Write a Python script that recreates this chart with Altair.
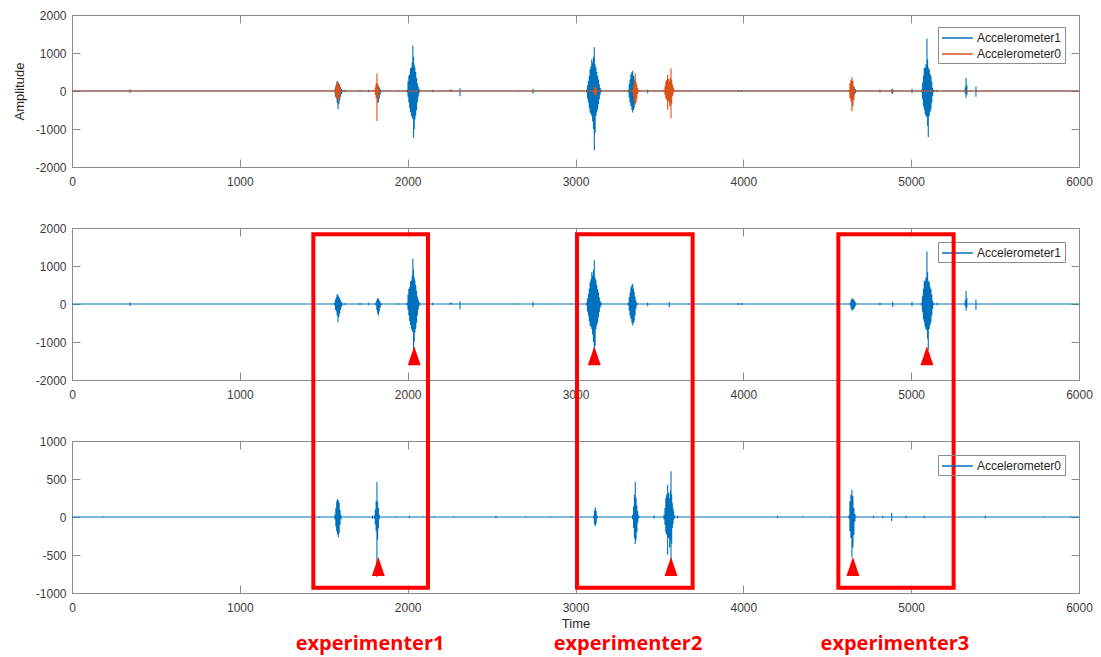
import altair as alt
import pandas as pd

# ---------------- axes / ticks ----------------
X_DOMAIN = [0, 6000]
X_TICKS = [0, 1000, 2000, 3000, 4000, 5000, 6000]
Y_DOMAIN_WIDE = [-2000, 2000]
Y_TICKS_WIDE = [-2000, -1000, 0, 1000, 2000]
Y_DOMAIN_NARROW = [-1000, 1000]
Y_TICKS_NARROW = [-1000, -500, 0, 500, 1000]

SERIES_NAMES = ["Accelerometer1", "Accelerometer0"]
SERIES_COLORS = ["#0072BD", "#D95319"]

# ---------------- Accelerometer1 (time, upper, lower) ----------------
ACC1_T = [0, 346, 727, 867, 1249,
          1565, 1570, 1575, 1580, 1585, 1590, 1595, 1600, 1606, 1612,
          1628, 1716, 1768,
          1810, 1816, 1821, 1826, 1831, 1836, 1841,
          1950,
          1996, 2002, 2007, 2012, 2017, 2022, 2027, 2031, 2035, 2039, 2043, 2048, 2053, 2058, 2063, 2068, 2075,
          2149, 2252, 2262, 2312, 2550, 2657, 2747, 2907,
          3066, 3072, 3077, 3082, 3087, 3092, 3097, 3102, 3107, 3112, 3117, 3122, 3127, 3132, 3137, 3142, 3147, 3153,
          3314, 3320, 3325, 3330, 3336, 3341, 3346, 3350, 3355, 3360, 3366,
          3430, 3559, 3672, 3777, 3970, 3990, 4318,
          4636, 4642, 4647, 4652, 4657, 4662, 4667, 4673,
          4814, 4890, 5005,
          5062, 5068, 5073, 5078, 5083, 5088, 5094, 5098, 5102, 5108, 5113, 5118, 5123, 5128, 5134,
          5154, 5322, 5327, 5332, 5386, 5962, 6000]
ACC1_HI = [0, 45, 15, 10, 10,
           40, 120, 180, 263, 230, 200, 150, 100, 50, 20,
           30, 25, 30,
           40, 100, 158, 140, 100, 50, 20,
           20,
           30, 250, 400, 440, 600, 620, 750, 1190, 900, 700, 620, 500, 350, 200, 120, 60, 20,
           30, 40, 30, 70, 15, 20, 60, 15,
           40, 150, 263, 400, 571, 650, 834, 750, 900, 1150, 700, 616, 500, 395, 300, 176, 80, 30,
           30, 176, 300, 439, 500, 534, 400, 308, 200, 89, 30,
           40, 50, 20, 15, 25, 25, 15,
           30, 100, 150, 140, 120, 90, 50, 20,
           40, 60, 60,
           40, 219, 400, 614, 614, 700, 1380, 833, 614, 570, 450, 395, 250, 88, 30,
           30, 100, 340, 150, 120, 15, 0]
ACC1_LO = [0, -55, -15, -10, -10,
           -40, -150, -200, -300, -482, -350, -250, -150, -80, -30,
           -30, -25, -30,
           -40, -150, -250, -305, -200, -100, -30,
           -20,
           -30, -150, -300, -450, -550, -650, -700, -740, -1230, -1000, -750, -650, -500, -300, -150, -60, -20,
           -30, -20, -20, -140, -15, -20, -70, -15,
           -40, -200, -305, -450, -568, -600, -658, -800, -1000, -1560, -1100, -658, -560, -482, -350, -218, -100, -30,
           -30, -175, -300, -395, -500, -568, -500, -438, -300, -131, -40,
           -60, -80, -20, -15, -25, -25, -15,
           -30, -120, -175, -160, -140, -100, -60, -20,
           -40, -80, -60,
           -40, -219, -400, -482, -600, -658, -700, -921, -1210, -658, -550, -482, -300, -132, -30,
           -30, -60, -180, -100, -150, -15, 0]

# ---------------- Accelerometer0 (time, upper, lower) ----------------
ACC0_T = [0, 183, 800, 1250, 1474,
          1566, 1572, 1577, 1582, 1587, 1592, 1597, 1603,
          1791,
          1802, 1807, 1812, 1817, 1821, 1826, 1831,
          1930, 2010, 2089, 2157, 2276, 2526, 2705, 2850, 2973,
          3108, 3113, 3118, 3123, 3128,
          3340, 3346, 3351, 3356, 3361, 3366, 3371, 3377,
          3469,
          3527, 3533, 3538, 3543, 3549, 3555, 3561, 3565, 3569, 3573, 3577, 3581, 3585, 3591,
          3608, 4204, 4353, 4522,
          4629, 4635, 4641, 4647, 4653, 4659, 4665, 4671,
          4776, 4830, 4884, 4969, 5078, 5442, 5793, 5952, 6000]
ACC0_HI = [0, 10, 8, 8, 10,
           30, 118, 206, 237, 220, 184, 96, 30,
           15,
           20, 100, 206, 460, 200, 120, 30,
           10, 15, 10, 10, 10, 15, 10, 10, 10,
           20, 90, 127, 80, 20,
           30, 140, 294, 460, 250, 150, 75, 20,
           20,
           30, 118, 250, 294, 425, 316, 250, 350, 601, 300, 184, 120, 75, 20,
           20, 15, 10, 10,
           20, 206, 294, 360, 272, 118, 40, 10,
           15, 15, 52, 15, 15, 20, 10, 10, 0]
ACC0_LO = [0, -10, -8, -8, -10,
           -30, -123, -189, -230, -268, -211, -101, -30,
           -25,
           -20, -100, -189, -790, -300, -150, -30,
           -10, -15, -10, -10, -10, -15, -10, -10, -10,
           -20, -100, -123, -90, -20,
           -30, -145, -276, -355, -300, -200, -79, -20,
           -20,
           -30, -101, -200, -232, -496, -276, -400, -300, -720, -350, -145, -100, -35, -20,
           -20, -15, -10, -10,
           -20, -189, -276, -530, -400, -232, -60, -10,
           -15, -15, -57, -15, -15, -20, -10, -10, 0]

# ---------------- annotations ----------------
BOX_LEFT = [1438, 3009, 4566]
BOX_RIGHT = [2121, 3698, 5253]
BOX_TOP = [3720, 3720, 3720]          # in bottom-panel units
BOX_BOTTOM = [-930, -930, -930]
MID_MARK_T = [2039, 3112, 5094]
MID_MARK_V = [-1361, -1361, -1361]
LOW_MARK_T = [1825, 3569, 4653]
LOW_MARK_V = [-651, -651, -651]
LABELS = ["experimenter1", "experimenter2", "experimenter3"]
LABEL_T = [1776, 3313, 4903]
LABEL_V = [-1671, -1671, -1671]

AX_GRAY = "#8c8c8c"
LABEL_COLOR = "#3c3c3c"
RED = "#FF0000"
TRI_PATH = "M0,-1L0.68,1L-0.68,1Z"
ASCII_LABEL = "'' + datum.value"


def trace_frame(name, times, highs, lows):
    rows = []
    for t, hi, lo in zip(times, highs, lows):
        for v in (0, hi, lo, 0):
            rows.append({"t": t, "v": v, "k": len(rows), "series": name})
    return pd.DataFrame(rows)


def x_label_axis(title):
    kw = dict(orient="bottom", values=X_TICKS, labelExpr=ASCII_LABEL, ticks=False, domain=False,
              grid=False, labelPadding=9, labelFlush=False)
    if title:
        kw.update(title=title, titlePadding=4)
    else:
        kw["title"] = None
    return alt.Axis(**kw)


def y_label_axis(ticks, title):
    kw = dict(orient="left", values=ticks, labelExpr=ASCII_LABEL, ticks=False, domain=False,
              grid=False, labelPadding=6, labelFlush=False, minExtent=38, maxExtent=38)
    if title:
        kw.update(title=title, titlePadding=8)
    else:
        kw["title"] = None
    return alt.Axis(**kw)


def tick_axis(orient, ticks):
    return alt.Axis(orient=orient, values=ticks, labels=False, domain=False, grid=False,
                    ticks=True, tickSize=8, offset=-8, minExtent=0, maxExtent=0,
                    title=None, tickColor=AX_GRAY, tickWidth=1)


def make_panel(data, color_domain, color_range, y_domain, y_ticks, y_title, x_title,
               legend_y, extras):
    xs = alt.Scale(domain=X_DOMAIN, nice=False)
    ys = alt.Scale(domain=y_domain, nice=False)
    cs = alt.Scale(domain=color_domain, range=color_range)
    legend = alt.Legend(title=None, orient="none", legendX=866, legendY=legend_y,
                        symbolType="M-1,0L3.4,0", symbolSize=196, symbolStrokeWidth=1.5,
                        labelFont="Liberation Sans", labelFontSize=12, labelColor="#262626",
                        labelOffset=20, padding=3, rowPadding=2, strokeColor=AX_GRAY)
    line = alt.Chart(data).mark_line(strokeWidth=1.1).encode(
        x=alt.X("t:Q", scale=xs, axis=x_label_axis(x_title)),
        y=alt.Y("v:Q", scale=ys, axis=y_label_axis(y_ticks, y_title)),
        order=alt.Order("k:Q"),
        color=alt.Color("series:N", scale=cs, legend=legend),
    )
    layers = [line]
    corner = pd.DataFrame({"t": X_DOMAIN, "v": y_domain})
    for ox, oy in (("bottom", "left"), ("top", "right")):
        layers.append(
            alt.Chart(corner).mark_point(opacity=0).encode(
                x=alt.X("t:Q", scale=xs, axis=tick_axis(ox, X_TICKS)),
                y=alt.Y("v:Q", scale=ys, axis=tick_axis(oy, y_ticks)),
            )
        )
    layers += extras(xs, ys)
    return (alt.layer(*layers)
            .resolve_axis(x="independent", y="independent")
            .properties(width=1007, height=152))


def triangles(xs, ys, times, vals):
    df = pd.DataFrame({"t": times, "v": vals})
    return alt.Chart(df).mark_point(shape=TRI_PATH, size=361, filled=True, color=RED,
                                    opacity=1, strokeWidth=0).encode(
        x=alt.X("t:Q", scale=xs, axis=None),
        y=alt.Y("v:Q", scale=ys, axis=None),
    )


def mid_extras(xs, ys):
    return [triangles(xs, ys, MID_MARK_T, MID_MARK_V)]


def low_extras(xs, ys):
    boxes = pd.DataFrame({"l": BOX_LEFT, "r": BOX_RIGHT, "top": BOX_TOP, "bot": BOX_BOTTOM})
    labels = pd.DataFrame({"t": LABEL_T, "v": LABEL_V, "label": LABELS})
    rect = alt.Chart(boxes).mark_rect(filled=False, color=RED, strokeWidth=4).encode(
        x=alt.X("l:Q", scale=xs, axis=None), x2="r:Q",
        y=alt.Y("top:Q", scale=ys, axis=None), y2="bot:Q",
    )
    text = alt.Chart(labels).mark_text(font="Open Sans", fontWeight="bold", fontSize=20,
                                       color=RED, align="center", baseline="middle").encode(
        x=alt.X("t:Q", scale=xs, axis=None),
        y=alt.Y("v:Q", scale=ys, axis=None),
        text="label:N",
    )
    return [triangles(xs, ys, LOW_MARK_T, LOW_MARK_V), rect, text]


acc1 = trace_frame(SERIES_NAMES[0], ACC1_T, ACC1_HI, ACC1_LO)
acc0 = trace_frame(SERIES_NAMES[1], ACC0_T, ACC0_HI, ACC0_LO)
both = pd.concat([acc1, acc0], ignore_index=True)

top = make_panel(both, SERIES_NAMES, SERIES_COLORS, Y_DOMAIN_WIDE, Y_TICKS_WIDE,
                 "Amplitude", None, 12, lambda xs, ys: [])
mid = make_panel(acc1, [SERIES_NAMES[0]], [SERIES_COLORS[0]], Y_DOMAIN_WIDE, Y_TICKS_WIDE,
                 None, None, 14, mid_extras)
low = make_panel(acc0, [SERIES_NAMES[1]], [SERIES_COLORS[0]], Y_DOMAIN_NARROW, Y_TICKS_NARROW,
                 None, "Time", 14, low_extras)

chart = (
    alt.vconcat(top, mid, low, spacing=61, bounds="flush")
    .resolve_scale(x="independent", y="independent", color="independent")
    .properties(padding={"left": 4, "top": 0, "right": 0, "bottom": 0})
    .configure_view(stroke=AX_GRAY, strokeWidth=1)
    .configure_axis(labelFont="Liberation Sans", labelFontSize=12, labelColor=LABEL_COLOR,
                    titleFont="Liberation Sans", titleFontSize=13, titleFontWeight="normal",
                    titleColor="#262626")
)

chart.save("out.html", embed_options={"renderer": "svg", "actions": False})
